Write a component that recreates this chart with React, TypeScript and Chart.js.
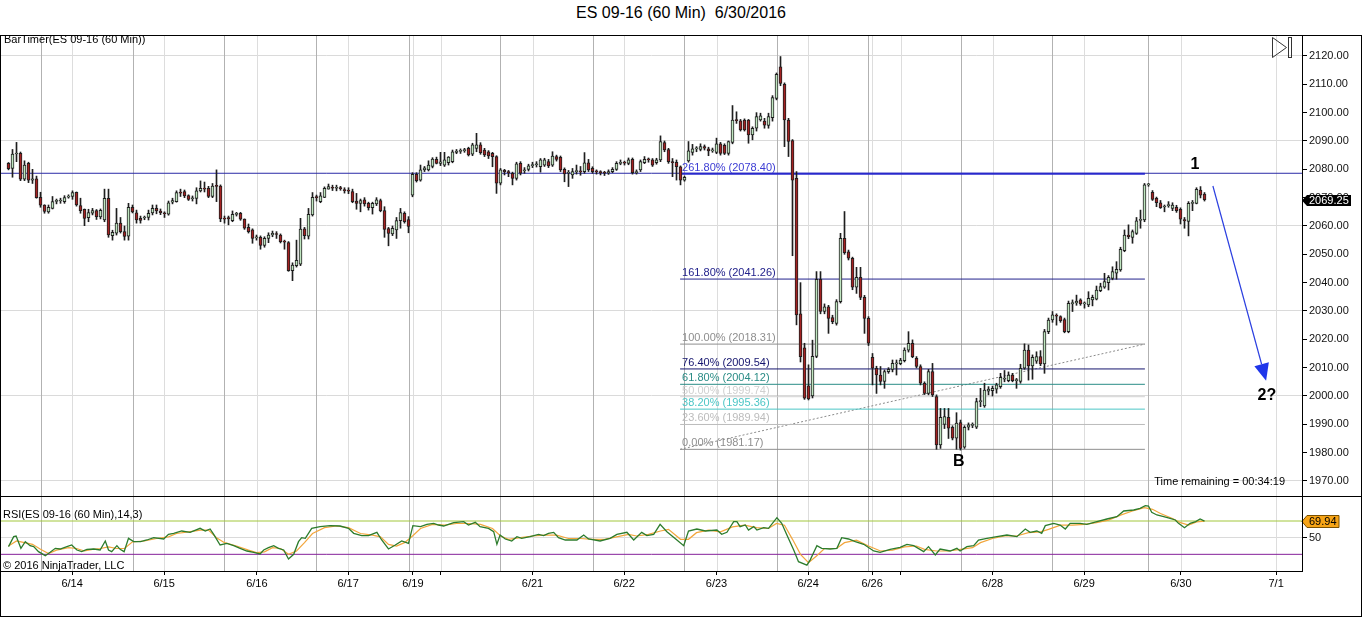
import React, { useEffect, useRef } from 'react';
import { Chart, registerables } from 'chart.js';

Chart.register(...registerables);

const FONT = "'Liberation Sans', Arial, Helvetica, sans-serif";

// ---------------- price data (60 min bars, oldest first) ----------------
const openP = [
  2082.1, 2080.3, 2085.4, 2085.6, 2076.5, 2082.1, 2076.2, 2076.6, 2070.1, 2067.4,
  2065.0, 2066.2, 2068.7, 2068.8, 2068.6, 2070.2, 2070.4, 2071.9, 2067.2, 2065.9,
  2062.9, 2064.5, 2065.4, 2063.2, 2062.1, 2069.8, 2056.6, 2057.5, 2061.0, 2058.0,
  2056.4, 2066.6, 2064.6, 2062.7, 2062.8, 2063.0, 2064.6, 2066.2, 2065.3, 2064.5,
  2064.2, 2068.4, 2068.6, 2071.8, 2072.1, 2070.7, 2069.6, 2069.7, 2072.4, 2073.2,
  2073.3, 2070.4, 2074.1, 2074.1, 2062.8, 2063.0, 2061.9, 2064.1, 2064.5, 2062.4,
  2059.5, 2058.6, 2055.8, 2056.0, 2053.1, 2055.6, 2056.8, 2057.2, 2056.8, 2054.5,
  2054.1, 2044.2, 2046.0, 2046.5, 2059.0, 2056.4, 2063.9, 2070.1, 2068.6, 2070.1,
  2073.0, 2073.6, 2073.3, 2073.4, 2072.8, 2072.5, 2072.1, 2068.8, 2068.0, 2069.2,
  2068.0, 2066.5, 2067.8, 2069.0, 2065.4, 2059.1, 2057.2, 2058.6, 2061.9, 2064.5,
  2062.3, 2070.9, 2078.2, 2076.2, 2079.8, 2079.8, 2081.0, 2083.5, 2082.1, 2081.5,
  2082.3, 2082.7, 2086.0, 2086.3, 2086.6, 2087.4, 2085.3, 2087.4, 2088.6, 2086.8,
  2086.2, 2085.6, 2084.5, 2075.1, 2079.6, 2079.2, 2078.6, 2076.8, 2082.1, 2079.5,
  2080.0, 2081.3, 2081.6, 2080.9, 2081.5, 2082.7, 2081.5, 2084.5, 2084.2, 2080.0,
  2078.6, 2078.0, 2079.2, 2079.3, 2079.2, 2082.3, 2080.3, 2079.2, 2079.0, 2078.8,
  2078.7, 2079.2, 2080.0, 2082.1, 2082.3, 2082.1, 2083.5, 2078.8, 2079.8, 2082.3,
  2083.4, 2083.3, 2082.3, 2083.3, 2089.4, 2087.0, 2082.7, 2082.5, 2080.9, 2076.2,
  2083.0, 2086.0, 2087.2, 2087.0, 2088.0, 2087.2, 2086.5, 2086.0, 2089.0, 2088.5,
  2085.6, 2089.5, 2097.4, 2097.1, 2097.4, 2097.4, 2092.1, 2094.5, 2097.4, 2097.0,
  2095.5, 2098.2, 2105.0, 2116.2, 2110.0, 2097.4, 2090.1, 2076.8, 2029.0, 2017.0,
  2003.6, 2000.0, 2014.0, 2041.2, 2029.8, 2031.5, 2027.7, 2025.6, 2033.3, 2055.6,
  2050.9, 2048.6, 2038.4, 2041.9, 2034.8, 2027.4, 2013.6, 2009.8, 2007.4, 2005.1,
  2008.6, 2009.4, 2011.3, 2011.4, 2012.5, 2016.2, 2018.6, 2013.3, 2010.4, 2004.5,
  2000.9, 2008.6, 1999.8, 1982.7, 1990.0, 1992.5, 1988.9, 1985.1, 1990.6, 1981.9,
  1989.0, 1989.6, 1989.0, 1998.0, 1996.5, 2001.7, 2001.9, 2002.4, 2003.3, 2005.9,
  2005.4, 2007.4, 2005.4, 2005.1, 2009.8, 2016.2, 2010.6, 2012.3, 2013.9, 2011.3,
  2022.7, 2026.8, 2028.4, 2028.0, 2027.0, 2022.7, 2032.5, 2032.8, 2033.9, 2032.5,
  2032.1, 2033.9, 2034.2, 2037.2, 2038.4, 2040.0, 2041.5, 2043.3, 2044.5, 2051.3,
  2056.8, 2056.0, 2057.4, 2062.0, 2062.1, 2074.5, 2071.9, 2069.8, 2068.2, 2066.7,
  2067.2, 2066.2, 2066.6, 2065.9, 2062.3, 2061.6, 2068.0, 2068.0, 2072.7, 2071.3,
];
const highP = [
  2082.4, 2087.0, 2089.5, 2086.1, 2083.0, 2082.5, 2080.0, 2077.6, 2071.9, 2067.5,
  2067.4, 2070.4, 2069.5, 2069.8, 2070.7, 2071.0, 2072.4, 2072.0, 2069.8, 2066.0,
  2065.9, 2066.2, 2065.8, 2066.0, 2073.0, 2073.0, 2058.5, 2066.2, 2063.0, 2060.0,
  2068.0, 2067.4, 2065.6, 2063.5, 2063.5, 2065.6, 2067.4, 2067.4, 2066.0, 2065.0,
  2068.8, 2069.8, 2072.4, 2073.0, 2072.7, 2071.0, 2070.6, 2073.5, 2075.9, 2075.5,
  2074.0, 2075.0, 2079.8, 2074.5, 2063.5, 2063.5, 2065.3, 2064.8, 2064.8, 2062.5,
  2060.7, 2059.0, 2056.8, 2056.5, 2056.2, 2057.6, 2058.2, 2058.0, 2057.2, 2055.0,
  2054.5, 2047.0, 2055.0, 2062.7, 2059.5, 2066.2, 2071.8, 2070.9, 2071.8, 2073.8,
  2074.8, 2074.4, 2074.4, 2074.0, 2073.5, 2073.5, 2073.0, 2071.5, 2069.5, 2070.0,
  2068.4, 2068.4, 2070.0, 2069.5, 2066.8, 2059.5, 2060.0, 2063.0, 2066.2, 2065.0,
  2063.3, 2078.8, 2078.8, 2081.5, 2081.0, 2083.0, 2084.1, 2084.3, 2086.0, 2086.0,
  2084.5, 2086.8, 2087.0, 2087.2, 2087.4, 2087.8, 2089.2, 2092.7, 2089.4, 2087.4,
  2086.6, 2086.0, 2084.8, 2080.3, 2080.0, 2079.6, 2079.0, 2082.5, 2082.7, 2080.6,
  2081.8, 2082.5, 2082.7, 2083.8, 2083.9, 2083.5, 2086.2, 2085.0, 2084.7, 2080.5,
  2079.6, 2080.3, 2081.5, 2081.0, 2085.9, 2083.5, 2080.9, 2079.8, 2079.5, 2079.3,
  2079.8, 2080.6, 2082.7, 2083.3, 2082.9, 2084.0, 2084.0, 2079.8, 2083.3, 2084.5,
  2084.0, 2083.8, 2083.9, 2091.8, 2090.0, 2087.4, 2083.8, 2083.3, 2081.2, 2077.6,
  2089.8, 2088.8, 2088.0, 2089.0, 2088.6, 2087.8, 2087.5, 2091.0, 2089.5, 2089.0,
  2090.0, 2102.5, 2100.3, 2097.6, 2097.8, 2097.6, 2095.0, 2100.0, 2099.8, 2098.0,
  2099.8, 2106.0, 2114.0, 2119.8, 2110.5, 2098.0, 2090.5, 2079.2, 2040.0, 2018.6,
  2011.0, 2019.7, 2043.9, 2043.9, 2032.5, 2032.0, 2028.5, 2034.0, 2057.4, 2065.1,
  2051.5, 2049.0, 2045.4, 2045.4, 2035.5, 2028.0, 2015.0, 2010.5, 2010.4, 2009.2,
  2010.0, 2012.7, 2012.7, 2013.3, 2017.0, 2022.7, 2019.8, 2013.9, 2011.0, 2005.0,
  2009.4, 2011.5, 2000.4, 1995.6, 1995.6, 1995.6, 1989.5, 1994.1, 1991.5, 1989.5,
  1990.5, 1990.5, 1999.2, 2002.7, 2004.5, 2003.3, 2003.5, 2004.5, 2008.0, 2009.0,
  2008.5, 2008.0, 2006.2, 2011.2, 2018.4, 2018.0, 2014.5, 2015.6, 2016.0, 2023.5,
  2027.5, 2029.8, 2029.0, 2028.3, 2027.5, 2033.5, 2033.9, 2035.6, 2034.3, 2033.2,
  2036.8, 2035.6, 2038.8, 2039.8, 2043.3, 2042.5, 2045.6, 2047.4, 2052.5, 2058.6,
  2060.4, 2058.6, 2063.0, 2065.6, 2075.0, 2075.0, 2072.5, 2070.2, 2069.0, 2067.4,
  2068.6, 2068.2, 2067.3, 2066.4, 2063.0, 2068.6, 2069.0, 2073.5, 2073.9, 2071.8,
];
const lowP = [
  2079.8, 2077.2, 2082.7, 2076.0, 2076.0, 2075.3, 2075.0, 2069.8, 2066.6, 2064.5,
  2064.5, 2066.0, 2067.8, 2068.0, 2068.0, 2069.8, 2069.4, 2067.0, 2064.5, 2060.1,
  2061.5, 2063.9, 2062.3, 2062.5, 2061.5, 2056.0, 2055.0, 2056.8, 2057.5, 2055.0,
  2055.0, 2064.6, 2061.0, 2061.0, 2062.2, 2062.1, 2063.9, 2064.3, 2064.0, 2063.0,
  2063.8, 2067.8, 2068.4, 2070.4, 2070.0, 2069.0, 2068.8, 2067.8, 2072.0, 2072.0,
  2070.0, 2070.0, 2068.6, 2061.5, 2061.0, 2060.4, 2061.5, 2063.5, 2062.0, 2058.8,
  2057.5, 2053.9, 2055.0, 2051.8, 2052.5, 2054.1, 2056.2, 2055.6, 2054.0, 2051.8,
  2044.0, 2040.7, 2045.5, 2046.0, 2055.4, 2055.4, 2063.5, 2068.8, 2068.2, 2070.0,
  2073.0, 2072.5, 2072.4, 2072.6, 2071.6, 2071.4, 2068.2, 2065.9, 2065.0, 2067.0,
  2065.6, 2064.2, 2067.2, 2065.0, 2056.0, 2053.0, 2056.6, 2055.6, 2059.2, 2061.0,
  2057.6, 2070.3, 2075.5, 2075.8, 2079.2, 2079.4, 2080.5, 2081.9, 2081.3, 2081.0,
  2081.5, 2082.3, 2085.5, 2085.6, 2086.0, 2084.7, 2084.8, 2086.2, 2085.3, 2084.5,
  2083.8, 2080.9, 2071.5, 2074.5, 2078.0, 2077.4, 2074.5, 2076.2, 2078.0, 2078.6,
  2079.4, 2080.6, 2080.8, 2079.0, 2081.0, 2080.6, 2081.0, 2082.9, 2079.2, 2075.6,
  2073.9, 2076.8, 2078.3, 2077.9, 2078.6, 2079.2, 2078.6, 2078.3, 2078.0, 2077.8,
  2078.2, 2078.8, 2079.6, 2081.6, 2081.5, 2081.6, 2078.3, 2078.3, 2079.2, 2082.0,
  2082.5, 2081.0, 2081.8, 2082.7, 2086.2, 2082.1, 2077.4, 2076.2, 2074.5, 2075.8,
  2082.5, 2085.0, 2086.2, 2086.5, 2086.8, 2084.8, 2086.0, 2085.5, 2085.0, 2085.2,
  2085.0, 2089.0, 2096.2, 2093.5, 2093.5, 2089.2, 2090.4, 2093.5, 2097.0, 2094.5,
  2094.5, 2097.0, 2104.5, 2109.5, 2088.0, 2084.5, 2049.5, 2025.1, 2012.0, 1998.8,
  1998.6, 1999.3, 2013.5, 2029.0, 2029.0, 2022.1, 2025.5, 2025.0, 2032.8, 2050.0,
  2048.0, 2037.5, 2036.2, 2034.0, 2022.1, 2017.8, 2003.9, 2000.9, 2003.9, 2002.7,
  2008.0, 2008.5, 2007.4, 2011.0, 2012.0, 2015.5, 2013.5, 2009.9, 2003.9, 2000.5,
  2000.4, 1999.8, 1981.2, 1981.5, 1988.5, 1985.0, 1984.5, 1981.2, 1980.9, 1981.5,
  1988.0, 1988.8, 1988.5, 1996.2, 1996.0, 2000.4, 2000.0, 2001.0, 2002.7, 2005.0,
  2005.0, 2005.0, 2002.7, 2004.5, 2009.4, 2005.6, 2005.9, 2011.5, 2010.7, 2008.0,
  2022.0, 2026.0, 2025.0, 2026.0, 2022.3, 2022.3, 2029.8, 2032.0, 2032.0, 2031.0,
  2031.5, 2031.8, 2033.9, 2036.8, 2038.0, 2037.4, 2041.0, 2041.2, 2044.0, 2050.9,
  2055.5, 2053.9, 2057.0, 2059.2, 2061.5, 2074.0, 2069.0, 2066.8, 2066.2, 2065.0,
  2066.6, 2065.4, 2064.8, 2060.7, 2059.2, 2056.5, 2065.4, 2067.8, 2069.9, 2068.8,
];
const closeP = [
  2080.2, 2085.4, 2085.6, 2076.5, 2081.5, 2076.2, 2076.6, 2070.0, 2067.3, 2065.1,
  2066.6, 2068.6, 2068.9, 2068.9, 2070.0, 2070.3, 2071.8, 2067.4, 2065.4, 2062.7,
  2064.7, 2065.4, 2063.3, 2065.5, 2069.8, 2056.8, 2057.8, 2061.0, 2058.0, 2056.3,
  2066.6, 2065.0, 2062.1, 2062.0, 2063.0, 2064.5, 2066.2, 2065.3, 2064.7, 2064.3,
  2068.2, 2069.0, 2071.8, 2071.6, 2070.6, 2069.4, 2069.7, 2072.4, 2073.3, 2073.0,
  2070.4, 2074.1, 2074.0, 2062.5, 2062.4, 2062.5, 2064.1, 2064.3, 2062.4, 2059.2,
  2058.0, 2055.6, 2056.0, 2053.1, 2055.6, 2056.8, 2057.4, 2057.0, 2054.5, 2054.3,
  2044.2, 2046.2, 2047.9, 2058.9, 2056.6, 2064.1, 2070.1, 2070.0, 2070.6, 2073.3,
  2073.9, 2073.3, 2073.4, 2073.2, 2072.5, 2072.3, 2068.6, 2068.0, 2069.0, 2067.8,
  2066.5, 2068.0, 2069.2, 2065.4, 2058.8, 2057.4, 2059.2, 2061.9, 2064.7, 2061.5,
  2059.8, 2078.2, 2076.0, 2079.8, 2080.5, 2081.5, 2083.6, 2082.1, 2082.6, 2083.3,
  2084.3, 2086.2, 2086.4, 2086.5, 2086.9, 2085.1, 2088.6, 2088.6, 2085.9, 2085.1,
  2084.7, 2084.5, 2075.1, 2079.8, 2079.2, 2078.8, 2076.8, 2081.9, 2078.6, 2079.8,
  2081.2, 2081.5, 2081.8, 2083.3, 2083.3, 2081.2, 2084.7, 2083.5, 2079.8, 2078.4,
  2078.8, 2079.2, 2079.3, 2079.1, 2082.3, 2079.8, 2079.2, 2079.1, 2078.8, 2078.6,
  2079.2, 2080.0, 2082.1, 2082.3, 2082.2, 2083.3, 2078.8, 2079.2, 2082.7, 2083.5,
  2083.3, 2081.5, 2083.3, 2089.8, 2086.8, 2082.7, 2082.3, 2080.9, 2076.2, 2077.2,
  2086.5, 2087.2, 2087.4, 2088.0, 2087.5, 2086.5, 2086.8, 2089.0, 2085.6, 2085.6,
  2089.8, 2097.4, 2097.2, 2093.9, 2093.9, 2092.1, 2094.5, 2098.6, 2098.9, 2095.6,
  2098.6, 2105.3, 2113.5, 2110.3, 2097.4, 2089.8, 2076.2, 2028.6, 2013.9, 1999.2,
  1999.0, 2014.0, 2041.2, 2029.8, 2031.5, 2027.4, 2026.2, 2033.3, 2055.6, 2050.6,
  2048.6, 2038.4, 2041.9, 2034.8, 2027.4, 2018.6, 2009.8, 2007.4, 2005.1, 2008.6,
  2009.4, 2011.5, 2011.7, 2012.7, 2016.2, 2018.6, 2013.9, 2010.4, 2004.5, 2000.9,
  2008.6, 2000.4, 1982.7, 1992.5, 1992.7, 1988.6, 1985.1, 1990.4, 1981.5, 1988.9,
  1989.8, 1989.9, 1998.0, 1998.3, 2002.1, 2002.4, 2002.7, 2003.9, 2006.6, 2006.0,
  2007.4, 2005.4, 2005.6, 2009.8, 2016.2, 2010.6, 2013.6, 2013.9, 2011.3, 2022.7,
  2026.8, 2028.6, 2028.2, 2026.6, 2022.7, 2032.7, 2033.0, 2033.5, 2032.5, 2032.7,
  2034.5, 2034.8, 2037.4, 2038.6, 2040.4, 2041.9, 2043.9, 2044.7, 2051.8, 2056.8,
  2056.2, 2058.0, 2061.8, 2062.1, 2074.5, 2074.6, 2069.4, 2068.2, 2066.5, 2066.8,
  2067.3, 2067.4, 2065.4, 2062.4, 2061.8, 2068.0, 2068.3, 2072.9, 2070.9, 2069.25,
];

// ---------------- axes ----------------
const priceTicks = [1970, 1980, 1990, 2000, 2010, 2020, 2030, 2040, 2050, 2060, 2070, 2080, 2090, 2100, 2110, 2120];
const dateTickBars = [15.9, 38.9, 62.1, 84.9, 101.1, 108.1, 131, 153.9, 177, 199.9, 215.9, 223, 246, 268.9, 293.1, 316.9];
const dateLabels = ['6/14', '6/15', '6/16', '6/17', '6/19', '', '6/21', '6/22', '6/23', '6/24', '6/26', '', '6/28', '6/29', '6/30', '7/1'];
const sessionBreakBars = [8.05, 31.05, 53.95, 76.95, 100.2, 122.9, 146.05, 168.95, 192.05, 214.95, 238.05, 260.95, 284.95];

// ---------------- fibonacci extension ----------------
const fibPct = ['261.80%', '161.80%', '100.00%', '76.40%', '61.80%', '50.00%', '38.20%', '23.60%', '0.00%'];
const fibPrice = [2078.40, 2041.26, 2018.31, 2009.54, 2004.12, 1999.74, 1995.36, 1989.94, 1981.17];
const fibStartBar = 167.9;
const fibEndBar = 284.1;
const resistanceLevel = 2078.6;

// ---------------- RSI(14,3) ----------------
const rsiPoints = [
  [0, 39.2], [1.3, 51.2], [1.9, 52], [3.1, 37.2], [4.2, 45.2], [5.4, 40.4], [6.3, 39.2], [7.5, 33.2], [9.2, 28.4], [10.4, 32.4],
  [11.7, 37.2], [12.9, 36.4], [14.6, 39.2], [15.8, 41.2], [17.1, 35.2], [18.3, 33.2], [19.6, 36], [21.3, 36.4], [22.9, 35.2], [24.2, 46],
  [25, 35.2], [25.8, 33.2], [27.1, 40.4], [27.9, 36], [28.9, 33.2], [30, 49.2], [31.3, 45.2], [33, 45.2], [34.6, 47.2], [36.3, 50],
  [38.8, 48.4], [40, 54], [41.3, 55.2], [43.3, 58], [45.4, 56.4], [47.9, 61.2], [49.2, 58], [50.4, 60.4], [51.3, 54], [52.9, 41.2],
  [54.6, 43.2], [56.3, 40.4], [57.9, 37.2], [59.6, 34], [61.3, 32.4], [62.9, 30.4], [63.8, 35.2], [65, 38], [66.3, 40.4], [67.5, 37.2],
  [68.8, 35.2], [70, 24.4], [71.3, 30], [72.5, 45.2], [73.3, 50], [74.2, 49.2], [75.8, 61.2], [77.9, 63.2], [80.4, 64.4], [82.9, 64],
  [85, 61.2], [86.3, 55.2], [88.3, 52.4], [90, 52.4], [92.1, 56.4], [93.3, 47.2], [95, 36.4], [96.7, 41.2], [98.3, 46], [100, 43.2],
  [101.1, 64.4], [103, 63.2], [104.6, 66], [106.3, 67.2], [107.5, 65.2], [108.8, 64], [110, 66], [111.3, 68], [113.8, 69.2], [115, 65.2],
  [116.7, 68.4], [117.9, 63.2], [120, 61.2], [121.3, 57.2], [122.1, 42], [122.9, 53.2], [124.2, 48.4], [125.8, 46], [127.1, 51.2], [128.3, 49.2],
  [130.4, 51.2], [132.5, 54], [133.8, 52.4], [135, 55.2], [136.3, 56.4], [137.5, 50], [139.2, 47.2], [142.1, 47.2], [143.8, 53.2], [145, 48.4],
  [147.9, 46], [150.4, 49.2], [152.1, 54], [154.6, 56.4], [156.3, 47.2], [158.3, 56.4], [159.6, 52.4], [161.3, 54], [162.9, 66], [164.6, 57.2],
  [167.1, 47.2], [168.8, 40.4], [170, 58], [172.1, 60.4], [174.2, 58], [177.1, 59.2], [178.3, 54], [179.6, 56.4], [181.3, 69.2], [182.1, 69.2],
  [182.9, 63.2], [184.2, 65.2], [185, 59.2], [186.3, 63.2], [187.1, 59.2], [188.8, 62], [190, 61.2], [192.1, 74], [193.3, 67.2], [194.6, 53.2],
  [196.3, 35.2], [197.5, 21.2], [199.6, 17.1], [200.4, 23.1], [202.1, 40.4], [203.3, 37.2], [205.4, 36.4], [207.1, 37.2], [208.3, 50], [210, 48.4],
  [211.7, 45.2], [213.8, 42], [216.3, 34], [217.9, 32.4], [220.4, 36], [222.9, 38.4], [224.6, 42], [226.3, 40.4], [228.8, 33.2], [230, 39.2],
  [231.7, 29.2], [232.9, 36.4], [235.4, 34], [237.1, 37.2], [237.9, 34], [239.6, 39.2], [241.3, 40.4], [242.5, 47.2], [244.6, 49.2], [247.1, 51.2],
  [249.6, 53.2], [252.1, 51.2], [254.2, 60.4], [255.4, 56.4], [257.1, 58], [258.3, 55.2], [259.2, 64.4], [261.3, 67.2], [262.9, 65.2], [264.2, 60.4],
  [265.4, 67.2], [267.9, 67.2], [269.6, 66], [272.1, 69.2], [274.6, 72.4], [277.1, 75.2], [278.8, 82], [281.3, 83.2], [282.9, 85.2], [284.2, 88.4],
  [285, 88], [285.8, 80.4], [287.1, 77.2], [288.8, 75.2], [290.4, 73.2], [291.7, 71.2], [292.5, 67.2], [294, 62], [295.4, 67.2], [296.8, 69.2],
  [297.9, 72.4], [299, 69.94],
];
const rsiAvgPoints = [
  [0, 40], [2, 46], [4, 44], [6, 42], [8, 36], [10, 31], [12, 35], [15, 38], [17, 37], [19, 34],
  [21, 36], [23, 37], [25, 39], [27, 37], [29, 37], [31, 45], [34, 46], [37, 49], [40, 51], [42, 55],
  [45, 57], [48, 59], [50, 59], [52, 50], [54, 44], [57, 40], [60, 35], [62, 32], [64, 33], [66, 38],
  [68, 37], [70, 30], [72, 34], [74, 44], [76, 55], [79, 62], [82, 64], [85, 62], [88, 55], [91, 53],
  [93, 51], [95, 42], [97, 40], [99, 44], [101, 52], [103, 61], [106, 66], [109, 65], [112, 67], [115, 67],
  [118, 66], [121, 61], [123, 52], [125, 48], [128, 50], [131, 52], [134, 53], [137, 53], [140, 49], [143, 49],
  [146, 48], [149, 48], [152, 51], [155, 54], [157, 52], [160, 54], [163, 58], [165, 60], [168, 48], [170, 48],
  [172, 56], [175, 59], [178, 57], [181, 63], [184, 65], [187, 62], [190, 61], [192, 67], [194, 65], [196, 48],
  [198, 30], [200, 20], [202, 28], [204, 37], [207, 37], [209, 44], [212, 47], [215, 40], [218, 34], [221, 35],
  [224, 39], [227, 40], [229, 36], [232, 34], [235, 34], [238, 36], [241, 38], [243, 44], [246, 49], [249, 52],
  [252, 52], [255, 56], [258, 57], [260, 60], [263, 65], [266, 65], [269, 66], [272, 68], [275, 71], [278, 77],
  [281, 82], [284, 86], [286, 84], [288, 79], [291, 73], [293, 68], [295, 65], [297, 69], [299, 69.9],
];
const rsiLevels = [70, 30];
const rsiTicks = [50];

// ---------------- annotations ----------------
const waveLabels = [
  { text: '1', bar: 296.6, price: 2081.5 },
  { text: 'B', bar: 237.6, price: 1976.7 },
  { text: '2?', bar: 314.6, price: 2000.3 },
];
const arrowFrom = { bar: 301.1, price: 2074.1 };
const arrowTo = { bar: 314.4, price: 2005.4 };

// ---------------- layout / style constants ----------------
const X_MIN = -1.875;
const X_MAX = 323.375;
const PRICE_MIN = 1964.7;
const PRICE_MAX = 2127.4;
const RSI_MIN = 10;
const RSI_MAX = 100;
const AXIS_W = 60;

const UP_FILL = '#bfe5bf';
const DOWN_FILL = '#a32222';
const CANDLE_LINE = '#1e1e1e';
const fibLineColors = ['#2828cc', '#22228c', '#8e8e8e', '#15156e', '#2a8c86', '#d2d2d2', '#4cc6c6', '#bcbcbc', '#8e8e8e'];
const fibTextColors = ['#3c3cd4', '#22228c', '#8e8e8e', '#15156e', '#2a8c86', '#d0d0d0', '#4cc6c6', '#bcbcbc', '#8e8e8e'];
const fibLineWidths = [2, 1, 1, 1, 1, 1, 1, 1, 1];

Chart.defaults.font.family = FONT;
Chart.defaults.font.size = 11;
Chart.defaults.color = '#000';

const vGridPlugin = {
  id: 'vgrid',
  beforeDatasetsDraw(chart: any) {
    const { ctx, chartArea: a } = chart;
    const x = chart.scales.x;
    ctx.save();
    ctx.lineWidth = 1;
    const draw = (v: number, color: string) => {
      const px = Math.round(x.getPixelForValue(v)) + 0.5;
      ctx.strokeStyle = color;
      ctx.beginPath();
      ctx.moveTo(px, a.top);
      ctx.lineTo(px, a.bottom);
      ctx.stroke();
    };
    dateTickBars.forEach((v) => draw(v, '#dddddd'));
    sessionBreakBars.forEach((v) => draw(v, '#b2b2b2'));
    ctx.restore();
  },
};

const mainOverlayPlugin = {
  id: 'mainOverlay',
  afterDatasetsDraw(chart: any) {
    const { ctx } = chart;
    const x = chart.scales.x;
    const y = chart.scales.y;
    ctx.save();
    // fib labels
    ctx.font = `11px ${FONT}`;
    ctx.textAlign = 'left';
    ctx.textBaseline = 'alphabetic';
    fibPrice.forEach((p, k) => {
      ctx.fillStyle = fibTextColors[k];
      ctx.fillText(`${fibPct[k]} (${p.toFixed(2)})`, x.getPixelForValue(fibStartBar) + 2, y.getPixelForValue(p) - 3);
    });
    // wave labels
    ctx.font = `bold 16px ${FONT}`;
    ctx.fillStyle = '#000';
    ctx.textAlign = 'center';
    ctx.textBaseline = 'middle';
    waveLabels.forEach((w) => ctx.fillText(w.text, x.getPixelForValue(w.bar), y.getPixelForValue(w.price)));
    // arrow
    const x1 = x.getPixelForValue(arrowFrom.bar);
    const y1 = y.getPixelForValue(arrowFrom.price);
    const x2 = x.getPixelForValue(arrowTo.bar);
    const y2 = y.getPixelForValue(arrowTo.price);
    const ang = Math.atan2(y2 - y1, x2 - x1);
    const headLen = 17;
    const headW = 7.5;
    const bx = x2 - headLen * Math.cos(ang);
    const by = y2 - headLen * Math.sin(ang);
    ctx.strokeStyle = '#2b3fe0';
    ctx.lineWidth = 1.2;
    ctx.beginPath();
    ctx.moveTo(x1, y1);
    ctx.lineTo(bx, by);
    ctx.stroke();
    ctx.fillStyle = '#1f36ea';
    ctx.beginPath();
    ctx.moveTo(x2, y2);
    ctx.lineTo(bx + headW * Math.sin(ang), by - headW * Math.cos(ang));
    ctx.lineTo(bx - headW * Math.sin(ang), by + headW * Math.cos(ang));
    ctx.closePath();
    ctx.fill();
    ctx.restore();
  },
  afterDraw(chart: any) {
    const { ctx, chartArea } = chart;
    const y = chart.scales.y;
    ctx.save();
    // last price tag
    const last = closeP[closeP.length - 1];
    const py = Math.round(y.getPixelForValue(last)) + 0.5;
    const left = chartArea.right;
    ctx.fillStyle = '#000';
    ctx.beginPath();
    ctx.moveTo(left, py);
    ctx.lineTo(left + 5, py - 5.5);
    ctx.lineTo(left + 49, py - 5.5);
    ctx.lineTo(left + 49, py + 5.5);
    ctx.lineTo(left + 5, py + 5.5);
    ctx.closePath();
    ctx.fill();
    ctx.fillStyle = '#fff';
    ctx.font = `11px ${FONT}`;
    ctx.textAlign = 'left';
    ctx.textBaseline = 'middle';
    ctx.fillText(last.toFixed(2), left + 7, py + 0.5);
    // scroll-to-end icon
    ctx.strokeStyle = '#333';
    ctx.lineWidth = 1;
    ctx.beginPath();
    ctx.moveTo(1272.5, 2.5);
    ctx.lineTo(1272.5, 22.5);
    ctx.lineTo(1286.5, 12.5);
    ctx.closePath();
    ctx.stroke();
    ctx.strokeRect(1288.5, 2.5, 3, 20);
    ctx.restore();
  },
};

const rsiOverlayPlugin = {
  id: 'rsiOverlay',
  afterDraw(chart: any) {
    const { ctx, chartArea } = chart;
    const y = chart.scales.y;
    const last = rsiPoints[rsiPoints.length - 1][1];
    const py = Math.round(y.getPixelForValue(last)) + 0.5;
    const left = chartArea.right;
    ctx.save();
    ctx.fillStyle = '#f7a416';
    ctx.strokeStyle = '#7a5000';
    ctx.lineWidth = 1;
    ctx.beginPath();
    ctx.moveTo(left, py);
    ctx.lineTo(left + 5, py - 6);
    ctx.lineTo(left + 37, py - 6);
    ctx.lineTo(left + 37, py + 6);
    ctx.lineTo(left + 5, py + 6);
    ctx.closePath();
    ctx.fill();
    ctx.stroke();
    ctx.fillStyle = '#000';
    ctx.font = `11px ${FONT}`;
    ctx.textAlign = 'left';
    ctx.textBaseline = 'middle';
    ctx.fillText(last.toFixed(2), left + 7, py + 0.5);
    ctx.restore();
  },
};

function mainConfig(): any {
  const idx = closeP.map((_, i) => i);
  const fibDatasets = fibPrice.map((p, k) => ({
    type: 'line',
    data: [{ x: fibStartBar, y: p }, { x: fibEndBar, y: p }],
    borderColor: fibLineColors[k],
    borderWidth: fibLineWidths[k],
    pointRadius: 0,
    order: 5,
  }));
  return {
    type: 'bar',
    data: {
      datasets: [
        ...fibDatasets,
        {
          type: 'line',
          data: [{ x: X_MIN, y: resistanceLevel }, { x: X_MAX, y: resistanceLevel }],
          borderColor: '#2a2aa6',
          borderWidth: 1,
          pointRadius: 0,
          order: 6,
        },
        {
          type: 'line',
          data: [{ x: fibStartBar, y: fibPrice[8] }, { x: fibEndBar, y: fibPrice[2] }],
          borderColor: '#8a8a8a',
          borderWidth: 1,
          borderDash: [2, 2],
          pointRadius: 0,
          order: 5,
        },
        {
          type: 'bar',
          data: idx.map((i) => ({ x: i, y: [lowP[i], highP[i]] })),
          backgroundColor: CANDLE_LINE,
          barThickness: 1,
          maxBarThickness: 1,
          grouped: false,
          order: 3,
        },
        {
          type: 'bar',
          data: idx.map((i) => ({ x: i, y: [openP[i], closeP[i]] })),
          backgroundColor: idx.map((i) => (closeP[i] >= openP[i] ? UP_FILL : DOWN_FILL)),
          borderColor: CANDLE_LINE,
          borderWidth: 1,
          borderSkipped: false,
          barThickness: 3,
          maxBarThickness: 3,
          minBarLength: 1,
          grouped: false,
          order: 2,
        },
      ],
    },
    options: {
      responsive: false,
      animation: false,
      devicePixelRatio: 1,
      events: [],
      layout: { padding: { left: 1, right: 0, top: 0, bottom: 0 } },
      plugins: { legend: { display: false }, tooltip: { enabled: false }, title: { display: false } },
      scales: {
        x: { type: 'linear', min: X_MIN, max: X_MAX, offset: false, display: false, grid: { offset: false } },
        y: {
          type: 'linear',
          position: 'right',
          min: PRICE_MIN,
          max: PRICE_MAX,
          beginAtZero: false,
          afterBuildTicks: (s: any) => { s.ticks = priceTicks.map((v) => ({ value: v })); },
          afterFit: (s: any) => { s.width = AXIS_W; s.paddingTop = 0; s.paddingBottom = 0; },
          ticks: { callback: (v: any) => Number(v).toFixed(2), color: '#111', font: { size: 11 }, padding: 2 },
          grid: {
            color: (c: any) => (c.tick && (c.tick.value - 2000) % 30 === 0 ? '#dadada' : 'rgba(0,0,0,0)'),
            tickColor: '#000',
            tickLength: 5,
            drawTicks: true,
          },
          border: { display: false },
        },
      },
    },
    plugins: [vGridPlugin, mainOverlayPlugin],
  };
}

function rsiConfig(): any {
  return {
    type: 'line',
    data: {
      datasets: [
        ...rsiLevels.map((lv, k) => ({
          data: [{ x: X_MIN, y: lv }, { x: X_MAX, y: lv }],
          borderColor: k === 0 ? '#a2c73c' : '#85209a',
          borderWidth: 1,
          pointRadius: 0,
          order: 5,
        })),
        {
          data: rsiAvgPoints.map(([b, v]) => ({ x: b, y: v })),
          borderColor: '#f2a63c',
          borderWidth: 1.2,
          pointRadius: 0,
          order: 2,
        },
        {
          data: rsiPoints.map(([b, v]) => ({ x: b, y: v })),
          borderColor: '#2c7c2c',
          borderWidth: 1.3,
          pointRadius: 0,
          order: 1,
        },
      ],
    },
    options: {
      responsive: false,
      animation: false,
      devicePixelRatio: 1,
      events: [],
      layout: { padding: { left: 1, right: 0, top: 0, bottom: 0 } },
      plugins: { legend: { display: false }, tooltip: { enabled: false } },
      scales: {
        x: {
          type: 'linear',
          min: X_MIN,
          max: X_MAX,
          offset: false,
          afterBuildTicks: (s: any) => { s.ticks = dateTickBars.map((v) => ({ value: v })); },
          afterFit: (s: any) => { s.height = 25; s.paddingLeft = 0; s.paddingRight = 0; },
          ticks: {
            autoSkip: false,
            maxRotation: 0,
            callback: (_v: any, i: number) => dateLabels[i],
            color: '#000',
            font: { size: 11 },
            padding: 2,
          },
          grid: { drawOnChartArea: false, drawTicks: true, tickLength: 4, tickColor: '#000', offset: false },
          border: { display: false },
        },
        y: {
          type: 'linear',
          position: 'right',
          min: RSI_MIN,
          max: RSI_MAX,
          afterBuildTicks: (s: any) => { s.ticks = rsiTicks.map((v) => ({ value: v })); },
          afterFit: (s: any) => { s.width = AXIS_W; s.paddingTop = 0; s.paddingBottom = 0; },
          ticks: { color: '#111', font: { size: 11 }, padding: 2 },
          grid: { color: '#dadada', tickColor: '#000', tickLength: 5 },
          border: { display: false },
        },
      },
    },
    plugins: [vGridPlugin, rsiOverlayPlugin],
  };
}

const abs = (s: any) => ({ position: 'absolute' as const, ...s });

export default function App() {
  const mainRef = useRef<HTMLCanvasElement>(null);
  const rsiRef = useRef<HTMLCanvasElement>(null);

  useEffect(() => {
    const c1 = new Chart(mainRef.current as HTMLCanvasElement, mainConfig());
    const c2 = new Chart(rsiRef.current as HTMLCanvasElement, rsiConfig());
    return () => {
      c1.destroy();
      c2.destroy();
    };
  }, []);

  const txt = { fontSize: 11, lineHeight: '13px', color: '#000', whiteSpace: 'pre' as const };

  return (
    <div style={abs({ left: 0, top: 0, width: 1362, height: 617, background: '#fff', overflow: 'hidden', fontFamily: FONT })}>
      <div style={abs({ left: 0, top: 4, width: 1362, textAlign: 'center', fontSize: 16, lineHeight: '18px', whiteSpace: 'pre', color: '#000' })}>
        {'ES 09-16 (60 Min)  6/30/2016'}
      </div>
      <canvas ref={mainRef} width={1362} height={461} style={abs({ left: 0, top: 35, width: 1362, height: 461 })} />
      <canvas ref={rsiRef} width={1362} height={100} style={abs({ left: 0, top: 496, width: 1362, height: 100 })} />
      {/* frame */}
      <div style={abs({ left: 0, top: 35, width: 1362, height: 582, border: '1px solid #000', boxSizing: 'border-box' })} />
      <div style={abs({ left: 0, top: 496, width: 1362, height: 1, background: '#000' })} />
      <div style={abs({ left: 0, top: 571, width: 1303, height: 1, background: '#000' })} />
      <div style={abs({ left: 1302, top: 35, width: 1, height: 537, background: '#000' })} />
      {/* texts */}
      <div style={abs({ left: 4, top: 33, ...txt })}>BarTimer(ES 09-16 (60 Min))</div>
      <div style={abs({ right: 77, top: 475, ...txt })}>Time remaining = 00:34:19</div>
      <div style={abs({ left: 3, top: 508, ...txt })}>RSI(ES 09-16 (60 Min),14,3)</div>
      <div style={abs({ left: 3, top: 559, ...txt })}>© 2016 NinjaTrader, LLC</div>
    </div>
  );
}
